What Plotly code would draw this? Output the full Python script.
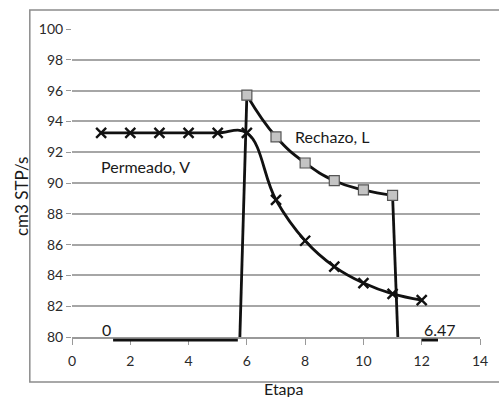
import plotly.graph_objects as go

# Data
etapa_v = [1, 2, 3, 4, 5, 6, 7, 8, 9, 10, 11, 12]
permeado_v = [93.25, 93.25, 93.25, 93.25, 93.25, 93.25, 88.9, 86.25, 84.57, 83.5, 82.8, 82.4]

etapa_l = [6, 7, 8, 9, 10, 11]
rechazo_l = [95.7, 93.0, 91.3, 90.15, 89.55, 89.2]
# rise / drop of the Rechazo line at its ends
etapa_l_rise = [5.76, 6]
rechazo_l_rise = [80, 95.7]
etapa_l_drop = [11, 11.18]
rechazo_l_drop = [89.2, 80]

# side labels (value, x extent of underline)
label_start = "0"
label_start_x = [1.41, 5.69]
label_end = "6.47"
label_end_x = [12.0, 12.56]

x_ticks = [0, 2, 4, 6, 8, 10, 12, 14]
y_ticks = [80, 82, 84, 86, 88, 90, 92, 94, 96, 98, 100]

FONT = "Lato"
TXT = "#1a1a1a"
LINE = "#111111"

fig = go.Figure()

fig.add_trace(go.Scatter(
    x=etapa_v, y=permeado_v, mode="lines+markers",
    line=dict(color=LINE, width=2.8, shape="spline", smoothing=1.15),
    marker=dict(symbol="x-thin", size=10, line=dict(color=LINE, width=2.4)),
    showlegend=False,
))
for xs, ys in ((etapa_l_rise, rechazo_l_rise), (etapa_l_drop, rechazo_l_drop)):
    fig.add_trace(go.Scatter(
        x=xs, y=ys, mode="lines",
        line=dict(color=LINE, width=2.8),
        showlegend=False,
    ))
fig.add_trace(go.Scatter(
    x=etapa_l, y=rechazo_l, mode="lines",
    line=dict(color=LINE, width=2.8, shape="spline", smoothing=1.3),
    showlegend=False,
))
fig.add_trace(go.Scatter(
    x=etapa_l, y=rechazo_l, mode="markers",
    marker=dict(symbol="square", size=10, color="#c4c4c4",
                line=dict(color="#555555", width=1.2)),
    showlegend=False,
))

# underlines of side labels
for xs in (label_start_x, label_end_x):
    fig.add_shape(type="line", xref="x", yref="paper",
                  x0=xs[0], x1=xs[1], y0=-0.01, y1=-0.01,
                  line=dict(color=LINE, width=2.8))

# outer border
fig.add_shape(type="rect", xref="paper", yref="paper",
              x0=-0.1034, x1=1.06, y0=-0.146, y1=1.0617,
              line=dict(color="#8c8c8c", width=1.5))

fig.add_annotation(x=label_start_x[0] - 0.23, y=80.5, text=label_start, showarrow=False,
                   font=dict(family=FONT, size=16, color=TXT))
fig.add_annotation(x=label_end_x[0] + 0.63, y=80.5, text=label_end, showarrow=False,
                   font=dict(family=FONT, size=16, color=TXT))
fig.add_annotation(x=2.53, y=91.1, text="Permeado, V", showarrow=False,
                   font=dict(family=FONT, size=16, color=TXT))
fig.add_annotation(x=8.95, y=93.0, text="Rechazo, L", showarrow=False,
                   font=dict(family=FONT, size=16, color=TXT))

fig.add_annotation(xref="paper", yref="paper", x=-0.125, y=0.4545,
                   xanchor="center", yanchor="middle",
                   text="cm3 STP/s", textangle=-90, showarrow=False,
                   font=dict(family=FONT, size=17, color=TXT))
fig.add_annotation(xref="paper", yref="paper", x=0.519, y=-0.166,
                   xanchor="center", yanchor="middle",
                   text="Etapa", showarrow=False,
                   font=dict(family=FONT, size=16, color=TXT))

fig.update_xaxes(range=[0, 14], tickvals=x_ticks, ticks="outside", ticklen=6,
                 tickcolor="#999999", tickwidth=1.2, showline=True,
                 linecolor="#999999", linewidth=1.5, showgrid=False, zeroline=False,
                 ticklabelstandoff=4,
                 tickfont=dict(family=FONT, size=14, color="#2a2a2a"))
fig.update_yaxes(range=[80, 100], tickvals=y_ticks, ticks="outside", ticklen=5,
                 tickcolor="#999999", tickwidth=1.2, showline=False,
                 showgrid=True, gridcolor="#a6a6a6", gridwidth=1.5, zeroline=False,
                 tickfont=dict(family=FONT, size=14, color="#2a2a2a"))

fig.update_layout(width=499, height=397,
                  margin=dict(l=72, r=11, t=29, b=60),
                  paper_bgcolor="white", plot_bgcolor="white")

fig.write_html("out.html")
